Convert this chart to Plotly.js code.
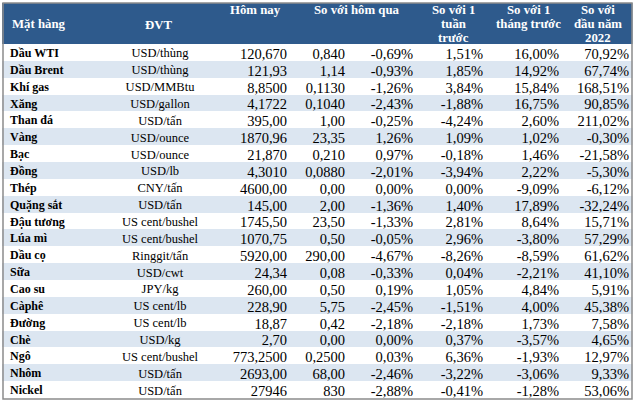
<!DOCTYPE html>
<html>
<head>
<meta charset="utf-8">
<script src="https://cdn.plot.ly/plotly-3.0.1.min.js"></script>
<style>html,body{margin:0;padding:0;background:#fff;}#chart{width:640px;height:403px;}</style>
</head>
<body>
<div id="chart"></div>
<script>
const names = ["Dầu WTI","Dầu Brent","Khí gas","Xăng","Than đá","Vàng","Bạc","Đồng","Thép","Quặng sắt","Đậu tương","Lúa mì","Dầu cọ","Sữa","Cao su","Càphê","Đường","Chè","Ngô","Nhôm","Nickel"];
const units = ["USD/thùng","USD/thùng","USD/MMBtu","USD/gallon","USD/tấn","USD/ounce","USD/ounce","USD/lb","CNY/tấn","USD/tấn","US cent/bushel","US cent/bushel","Ringgit/tấn","USD/cwt","JPY/kg","US cent/lb","US cent/lb","USD/kg","US cent/bushel","USD/tấn","USD/tấn"];
const today = ["120,670","121,93","8,8500","4,1722","395,00","1870,96","21,870","4,3010","4600,00","145,00","1745,50","1070,75","5920,00","24,34","260,00","228,90","18,87","2,70","773,2500","2693,00","27946"];
const chgAbs = ["0,840","1,14","0,1130","0,1040","1,00","23,35","0,210","0,0880","0,00","2,00","23,50","0,50","290,00","0,08","0,50","5,75","0,42","0,00","0,2500","68,00","830"];
const chgDay = ["-0,69%","-0,93%","-1,26%","-2,43%","-0,25%","1,26%","0,97%","-2,01%","0,00%","-1,36%","-1,33%","-0,05%","-4,67%","-0,33%","0,19%","-2,45%","-2,18%","0,00%","0,03%","-2,46%","-2,88%"];
const chgWeek = ["1,51%","1,85%","3,84%","-1,88%","-4,24%","1,09%","-0,18%","-3,94%","0,00%","1,40%","2,81%","2,96%","-8,26%","0,04%","1,05%","-1,51%","-2,18%","0,37%","6,36%","-3,22%","-0,41%"];
const chgMonth = ["16,00%","14,92%","15,84%","16,75%","2,60%","1,02%","1,46%","2,22%","-9,09%","17,89%","8,64%","-3,80%","-8,59%","-2,21%","4,84%","4,00%","1,73%","-3,57%","-1,93%","-3,06%","-1,28%"];
const chgYtd = ["70,92%","67,74%","168,51%","90,85%","211,02%","-0,30%","-21,58%","-5,30%","-6,12%","-32,24%","15,71%","57,29%","61,62%","41,10%","5,91%","45,38%","7,58%","4,65%","12,97%","9,33%","53,06%"];
const headerLines = [
  {t: "Mặt hàng", x: 10, y: 24, xa: "left"},
  {t: "ĐVT", x: 158, y: 25, xa: "center"},
  {t: "Hôm nay", x: 255, y: 10, xa: "center"},
  {t: "So với hôm qua", x: 357, y: 10, xa: "center"},
  {t: "So với 1", x: 453, y: 10, xa: "center"},
  {t: "tuần", x: 453, y: 24, xa: "center"},
  {t: "trước", x: 453, y: 38, xa: "center"},
  {t: "So với 1", x: 528, y: 10, xa: "center"},
  {t: "tháng trước", x: 528, y: 24, xa: "center"},
  {t: "So với", x: 598, y: 10, xa: "center"},
  {t: "đầu năm", x: 598, y: 24, xa: "center"},
  {t: "2022", x: 598, y: 38, xa: "center"}
];

const W = 640, H = 403;
const px = x => x / W, py = y => 1 - y / H;
const headerBlue = "#2e5a8c", stripe = "#dce6f1";
const serif = "Liberation Serif";
const colW = [98, 120, 75, 58, 68, 70, 76, 70];
const rowH = 16.86, headH = 41, textShift = 4;
const nb = s => s.replace(/ /g, "\u00a0");

const rowFill = names.map((_, i) => i % 2 === 0 ? "#ffffff" : stripe);
const blank = names.map(() => "");

// background table: header band + striped rows
const bg = {
  type: "table",
  domain: {x: [px(2), px(637)], y: [0, py(3)]},
  columnwidth: colW,
  header: {values: colW.map(() => ""), height: headH, fill: {color: headerBlue}, line: {width: 0, color: headerBlue}},
  cells: {values: colW.map(() => blank), height: rowH, fill: {color: [rowFill]}, line: {width: 0, color: "rgba(0,0,0,0)"}}
};

// text table
const txt = {
  type: "table",
  domain: {x: [px(2), px(637)], y: [0, py(3)]},
  columnwidth: colW,
  header: {values: colW.map(() => ""), height: headH - textShift, fill: {color: "rgba(0,0,0,0)"}, line: {width: 0, color: "rgba(0,0,0,0)"}},
  cells: {
    values: [names.map(nb), units.map(nb), today, chgAbs, chgDay, chgWeek, chgMonth, chgYtd],
    height: rowH,
    align: ["left", "center", "right", "right", "right", "right", "right", "right"],
    fill: {color: "rgba(0,0,0,0)"},
    line: {width: 0, color: "rgba(0,0,0,0)"},
    font: {family: serif, color: "#000",
           size: [12, 12.5, 14.5, 14.5, 14.5, 14.5, 14.5, 14.5],
           weight: [700, 400, 400, 400, 400, 400, 400, 400]}
  }
};

const annotations = headerLines.map(h => ({
  text: "<b>" + h.t + "</b>", xref: "paper", yref: "paper",
  x: px(h.x), y: py(h.y), xanchor: h.xa, yanchor: "middle",
  showarrow: false, font: {family: serif, size: 12.8, color: "#ffffff"}
}));

const layout = {
  width: W, height: H,
  margin: {l: 0, r: 0, t: 0, b: 0},
  paper_bgcolor: "#ffffff",
  showlegend: false,
  annotations: annotations,
  shapes: [
    {type: "rect", xref: "paper", yref: "paper", x0: px(632.5), x1: 1, y0: 0, y1: 1, fillcolor: "#ffffff", line: {width: 0}, layer: "above"},
    {type: "rect", xref: "paper", yref: "paper", x0: px(3), x1: px(632), y0: py(399), y1: py(3), line: {color: "#8c8c8c", width: 1.5}, layer: "above"}
  ]
};

Plotly.newPlot("chart", [bg, txt], layout, {displayModeBar: false, staticPlot: true});
</script>
</body>
</html>
